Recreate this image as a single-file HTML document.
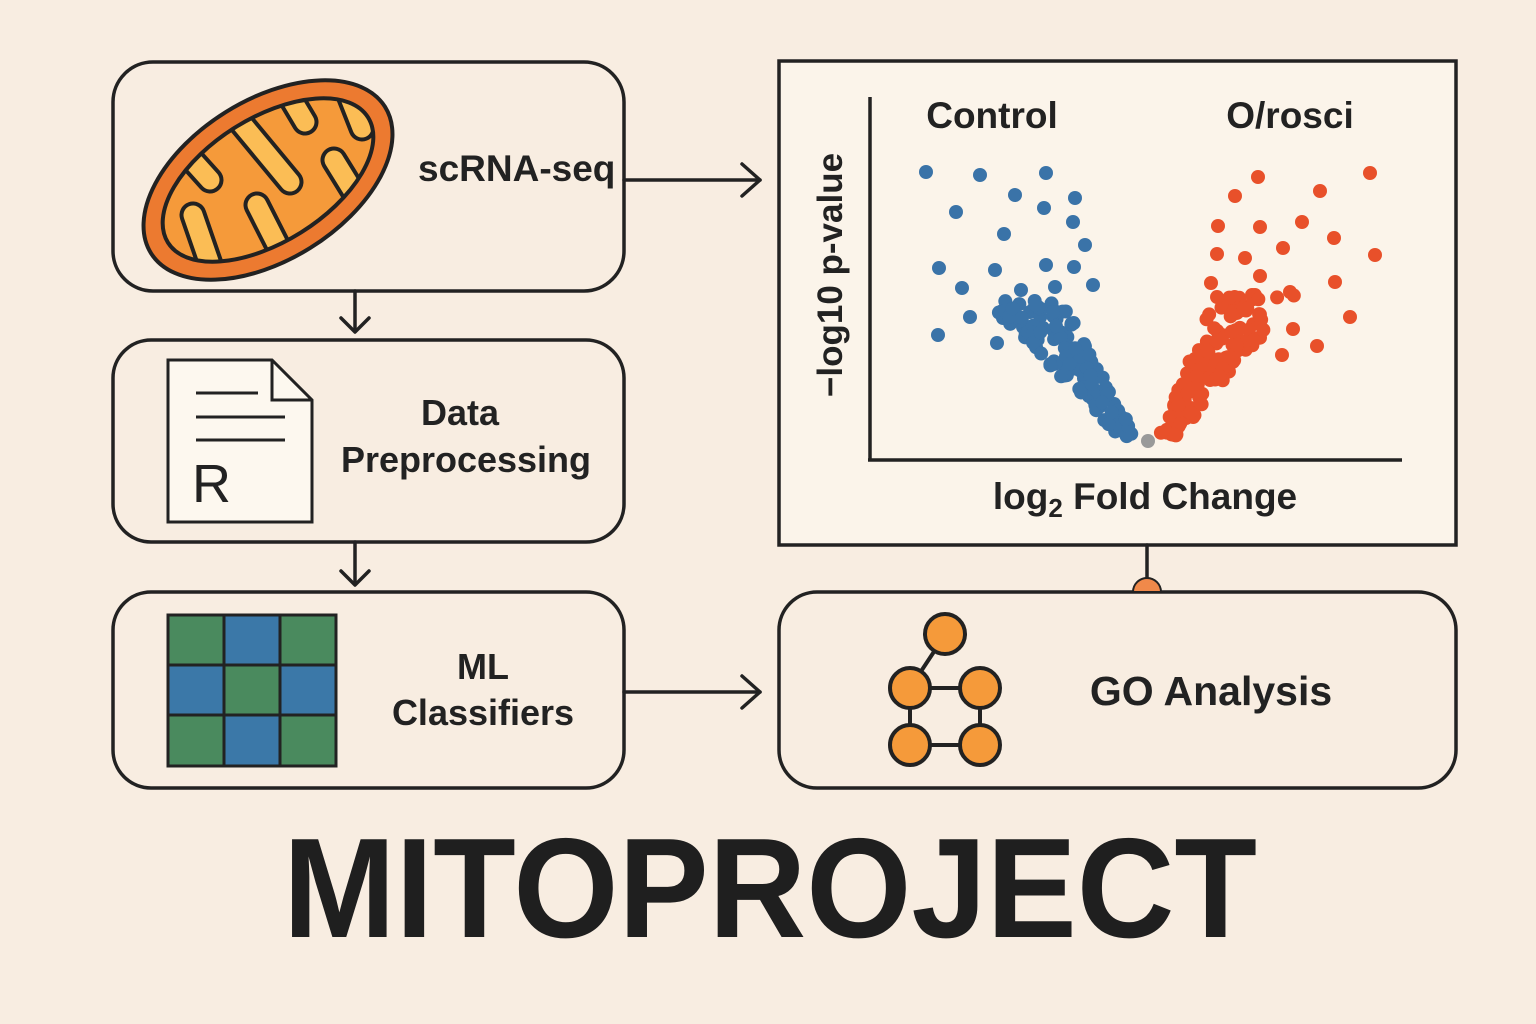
<!DOCTYPE html>
<html><head><meta charset="utf-8"><style>
html,body{margin:0;padding:0;background:#f8ede1;}
svg{display:block;font-family:"Liberation Sans",sans-serif;}
</style></head><body>
<svg id="s" width="1536" height="1024" viewBox="0 0 1536 1024" xmlns="http://www.w3.org/2000/svg">
<rect width="1536" height="1024" fill="#f8ede1"/>
<defs>
<clipPath id="inner"><ellipse cx="268" cy="180" rx="118" ry="62" transform="rotate(-32 268 180)"/></clipPath>
</defs>
<g fill="none" stroke="#222" stroke-width="3.5">
<rect x="113" y="62" width="511" height="229" rx="40"/>
<rect x="113" y="340" width="511" height="202" rx="38"/>
<rect x="113" y="592" width="511" height="196" rx="38"/>
<rect x="779" y="61" width="677" height="484" fill="#fbf4ea"/>
<rect x="779" y="592" width="677" height="196" rx="38"/>
</g>
<g stroke="#222" stroke-width="3.5" fill="none" stroke-linecap="round" stroke-linejoin="round">
<line x1="355" y1="291" x2="355" y2="330"/><path d="M341,318 L355,332 L369,318"/>
<line x1="355" y1="542" x2="355" y2="583"/><path d="M341,571 L355,585 L369,571"/>
<line x1="624" y1="180" x2="760" y2="180"/><path d="M742,164 L760,180 L742,196"/>
<line x1="624" y1="692" x2="760" y2="692"/><path d="M742,676 L760,692 L742,708"/>
<line x1="1147" y1="545" x2="1147" y2="582"/>
</g>
<path d="M1133,592 A14,14 0 0 1 1161,592 Z" fill="#f0894a" stroke="#222" stroke-width="2"/>
<!-- mitochondrion -->
<ellipse cx="268" cy="180" rx="138" ry="80" transform="rotate(-32 268 180)" fill="#ec7a30" stroke="#222" stroke-width="4"/>
<ellipse cx="268" cy="180" rx="118" ry="62" transform="rotate(-32 268 180)" fill="#f59a3a"/>
<g clip-path="url(#inner)" stroke-linecap="round">
<g stroke="#222" stroke-width="27">
<line x1="165" y1="130" x2="210" y2="180"/><line x1="222" y1="100" x2="290" y2="182"/><line x1="280" y1="80" x2="305" y2="122"/>
<line x1="290" y1="270" x2="257" y2="205"/><line x1="212" y1="270" x2="193" y2="215"/><line x1="368" y1="215" x2="334" y2="160"/><line x1="345" y1="85" x2="362" y2="128"/>
</g>
<g stroke="#fbbd55" stroke-width="19">
<line x1="165" y1="130" x2="210" y2="180"/><line x1="222" y1="100" x2="290" y2="182"/><line x1="280" y1="80" x2="305" y2="122"/>
<line x1="290" y1="270" x2="257" y2="205"/><line x1="212" y1="270" x2="193" y2="215"/><line x1="368" y1="215" x2="334" y2="160"/><line x1="345" y1="85" x2="362" y2="128"/>
</g>
</g>
<ellipse cx="268" cy="180" rx="118" ry="62" transform="rotate(-32 268 180)" fill="none" stroke="#222" stroke-width="4"/>
<text x="418" y="181" font-size="37" fill="#222" font-weight="bold">scRNA-seq</text>
<!-- doc -->
<path d="M168,360 L272,360 L312,400 L312,522 L168,522 Z" fill="#fdf8ef" stroke="#222" stroke-width="3"/>
<path d="M272,360 L272,400 L312,400" fill="none" stroke="#222" stroke-width="3"/>
<g stroke="#222" stroke-width="3"><line x1="196" y1="393" x2="258" y2="393"/><line x1="196" y1="417" x2="285" y2="417"/><line x1="196" y1="440" x2="285" y2="440"/></g>
<text x="192" y="502" font-size="54" fill="#222">R</text>
<text x="460" y="425" font-size="36" fill="#222" text-anchor="middle" font-weight="bold">Data</text>
<text x="466" y="472" font-size="36" fill="#222" text-anchor="middle" font-weight="bold">Preprocessing</text>
<!-- grid -->
<g stroke="#222" stroke-width="3">
<rect x="168" y="615" width="56" height="50" fill="#4a8a5e"/><rect x="224" y="615" width="56" height="50" fill="#3b78a8"/><rect x="280" y="615" width="56" height="50" fill="#4a8a5e"/>
<rect x="168" y="665" width="56" height="50" fill="#3b78a8"/><rect x="224" y="665" width="56" height="50" fill="#4a8a5e"/><rect x="280" y="665" width="56" height="50" fill="#3b78a8"/>
<rect x="168" y="715" width="56" height="51" fill="#4a8a5e"/><rect x="224" y="715" width="56" height="51" fill="#3b78a8"/><rect x="280" y="715" width="56" height="51" fill="#4a8a5e"/>
</g>
<text x="483" y="679" font-size="36" fill="#222" text-anchor="middle" font-weight="bold">ML</text>
<text x="483" y="725" font-size="36" fill="#222" text-anchor="middle" font-weight="bold">Classifiers</text>
<!-- GO -->
<g stroke="#222" stroke-width="4"><line x1="945" y1="635" x2="910" y2="688"/><line x1="910" y1="688" x2="980" y2="688"/><line x1="910" y1="688" x2="910" y2="745"/><line x1="980" y1="688" x2="980" y2="745"/><line x1="910" y1="745" x2="980" y2="745"/></g>
<g fill="#f59a3a" stroke="#222" stroke-width="4">
<circle cx="945" cy="634" r="20"/><circle cx="910" cy="688" r="20"/><circle cx="980" cy="688" r="20"/><circle cx="910" cy="745" r="20"/><circle cx="980" cy="745" r="20"/></g>
<text x="1211" y="705" font-size="41" fill="#222" text-anchor="middle" font-weight="bold">GO Analysis</text>
<!-- plot -->
<g stroke="#222" stroke-width="3.5"><line x1="870" y1="97" x2="870" y2="461"/><line x1="868" y1="460" x2="1402" y2="460"/></g>
<text x="992" y="128" font-size="37" fill="#222" text-anchor="middle" font-weight="bold">Control</text>
<text x="1290" y="128" font-size="37" fill="#222" text-anchor="middle" font-weight="bold">O/rosci</text>
<text transform="translate(842,275) rotate(-90)" font-size="35" fill="#222" text-anchor="middle" font-weight="bold">−log10 p-value</text>
<text x="1145" y="509" font-size="37" fill="#222" text-anchor="middle" font-weight="bold">log<tspan font-size="26" dy="8">2</tspan><tspan dy="-8"> Fold Change</tspan></text>
<g id="pts"></g>
<text x="770" y="937" font-size="142" fill="#1f1f1f" text-anchor="middle" font-weight="bold" textLength="974" lengthAdjust="spacingAndGlyphs">MITOPROJECT</text>
</svg>
<script>
var g=document.getElementById('pts'),s=7,ns='http://www.w3.org/2000/svg';
function r(){s=(s*9301+49297)%233280;return s/233280;}
function c(x,y,f){var e=document.createElementNS(ns,'circle');e.setAttribute('cx',x);e.setAttribute('cy',y);e.setAttribute('r',7);e.setAttribute('fill',f);g.appendChild(e);}
var blue=[[926,172],[980,175],[1046,173],[956,212],[1015,195],[1044,208],[1075,198],[1004,234],[1073,222],[1085,245],[939,268],[995,270],[1046,265],[1074,267],[962,288],[1021,290],[1055,287],[1093,285],[970,317],[1003,318],[1030,312],[938,335],[997,343],[1023,327]];
var red=[[1258,177],[1370,173],[1235,196],[1320,191],[1218,226],[1260,227],[1302,222],[1334,238],[1217,254],[1245,258],[1283,248],[1375,255],[1260,276],[1335,282],[1211,283],[1290,292],[1350,317],[1317,346],[1282,355],[1293,329]];
blue.forEach(function(p){c(p[0],p[1],'#3a73a8');});
red.forEach(function(p){c(p[0],p[1],'#e8502a');});
for(var i=0;i<130;i++){var t=r();var y=300+t*140;var w=r();var x=1138-(440-y)*0.55-w*75*(1-t*0.8);c(x,y,'#3a73a8');}
for(var i=0;i<130;i++){var t=r();var y=295+t*145;var w=r();var x=1158+(440-y)*0.4+w*80*(1-t*0.8);c(x,y,'#e8502a');}
c(1148,441,'#999');
</script>
</body></html>
